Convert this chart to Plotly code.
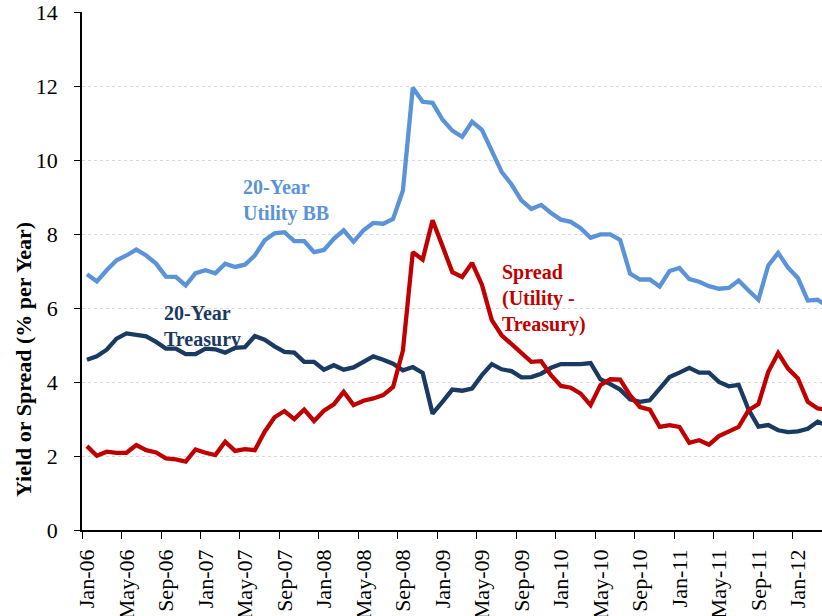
import pandas as pd
import plotly.graph_objects as go

months = list(pd.date_range("2006-01-01", periods=76, freq="MS").strftime("%b-%y"))

utility_bb = [6.92, 6.73, 7.03, 7.30, 7.43, 7.59, 7.43, 7.21, 6.86, 6.85,
              6.62, 6.95, 7.03, 6.95, 7.21, 7.12, 7.18, 7.43, 7.84, 8.03,
              8.06, 7.82, 7.82, 7.52, 7.58, 7.88, 8.11, 7.80, 8.11, 8.31,
              8.29, 8.42, 9.19, 11.97, 11.59, 11.56, 11.11, 10.81, 10.64, 11.05,
              10.83, 10.23, 9.69, 9.35, 8.92, 8.69, 8.80, 8.58, 8.40, 8.34,
              8.17, 7.91, 8.00, 8.00, 7.85, 6.94, 6.78, 6.78, 6.59, 7.01,
              7.09, 6.79, 6.72, 6.60, 6.53, 6.55, 6.75, 6.48, 6.23, 7.16,
              7.50, 7.10, 6.82, 6.21, 6.23, 6.05]

treasury = [4.61, 4.70, 4.88, 5.18, 5.32, 5.27, 5.24, 5.09, 4.91, 4.91,
            4.76, 4.76, 4.91, 4.89, 4.80, 4.93, 4.95, 5.25, 5.15, 4.97,
            4.82, 4.80, 4.55, 4.55, 4.34, 4.46, 4.34, 4.40, 4.55, 4.70,
            4.61, 4.50, 4.32, 4.41, 4.25, 3.15, 3.47, 3.80, 3.77, 3.83,
            4.19, 4.49, 4.35, 4.30, 4.13, 4.14, 4.23, 4.39, 4.49, 4.48,
            4.49, 4.52, 4.08, 3.95, 3.80, 3.54, 3.47, 3.51, 3.81, 4.14,
            4.26, 4.39, 4.26, 4.26, 4.01, 3.89, 3.93, 3.26, 2.80, 2.84,
            2.70, 2.65, 2.67, 2.74, 2.93, 2.82]

spread = [2.27, 2.01, 2.12, 2.09, 2.09, 2.30, 2.16, 2.10, 1.94, 1.91,
          1.85, 2.18, 2.09, 2.03, 2.39, 2.14, 2.19, 2.16, 2.66, 3.05,
          3.22, 3.00, 3.26, 2.95, 3.23, 3.40, 3.74, 3.38, 3.50, 3.56,
          3.65, 3.87, 4.86, 7.52, 7.32, 8.38, 7.69, 6.98, 6.85, 7.23,
          6.64, 5.68, 5.27, 5.02, 4.77, 4.55, 4.57, 4.19, 3.90, 3.85,
          3.69, 3.38, 3.92, 4.08, 4.07, 3.65, 3.33, 3.26, 2.79, 2.84,
          2.79, 2.36, 2.43, 2.31, 2.54, 2.66, 2.79, 3.24, 3.41, 4.28,
          4.79, 4.37, 4.10, 3.47, 3.29, 3.25]

y_ticks = [0, 2, 4, 6, 8, 10, 12, 14]

C_BLUE = "#5B93D8"
C_NAVY = "#1B3A62"
C_RED = "#C00000"
FONT = "Liberation Serif"

x = list(range(len(months)))
label_idx = x[::4]

fig = go.Figure()
for vals, col in [(utility_bb, C_BLUE), (treasury, C_NAVY), (spread, C_RED)]:
    fig.add_trace(go.Scatter(x=x, y=vals, mode="lines",
                             line=dict(color=col, width=4.3),
                             showlegend=False, hoverinfo="skip"))

fig.update_layout(
    width=822, height=616,
    margin=dict(l=82, r=0, t=12, b=86, autoexpand=False),
    paper_bgcolor="white", plot_bgcolor="white",
    font=dict(family=FONT, size=22, color="black"),
    showlegend=False,
)
fig.update_xaxes(
    range=[-0.5, 74.44],
    tickmode="array", tickvals=label_idx, ticktext=[months[i] for i in label_idx],
    tickangle=-90, ticks="", showgrid=False, ticklabelstandoff=9,
    showline=True, linecolor="black", linewidth=1.5,
    tickfont=dict(family=FONT, size=22, color="black"),
    minor=dict(tickmode="array", tickvals=[i - 0.5 for i in label_idx],
               ticks="outside", ticklen=7, tickcolor="black", tickwidth=1.2,
               showgrid=False),
    zeroline=False, automargin=False,
)
fig.update_yaxes(
    range=[0, 14.02], tickmode="array", tickvals=y_ticks,
    ticks="outside", ticklen=6, tickcolor="black", tickwidth=1.2,
    ticklabelstandoff=12,
    showline=True, linecolor="black", linewidth=1.5,
    showgrid=True, gridcolor="#D9D9D9", gridwidth=1, griddash="dot",
    zeroline=False, automargin=False,
    tickfont=dict(family=FONT, size=22, color="black"),
)

fig.add_annotation(xref="paper", yref="paper", x=(23 - 82) / 740, y=(530 - 360) / 518,
                   text="<b>Yield or Spread (% per Year)</b>", textangle=-90,
                   showarrow=False, font=dict(family=FONT, size=22, color="black"),
                   xanchor="center", yanchor="middle")

def lab(text, px, py, color):
    fig.add_annotation(xref="paper", yref="paper",
                       x=(px - 82) / 740, y=(530 - py) / 518,
                       text=text, showarrow=False, align="left",
                       xanchor="left", yanchor="top",
                       font=dict(family=FONT, size=20, color=color))

lab("<b>20-Year<br>Utility BB</b>", 241, 174, C_BLUE)
lab("<b>20-Year<br>Treasury</b>", 162, 300, C_NAVY)
lab("<b>Spread<br>(Utility -<br>Treasury)</b>", 500, 259, C_RED)

fig.write_html(
    "out.html",
    config={"displayModeBar": False},
    post_script="document.body.style.margin='0';document.body.style.padding='0';"
                "document.body.style.overflow='hidden';",
)
